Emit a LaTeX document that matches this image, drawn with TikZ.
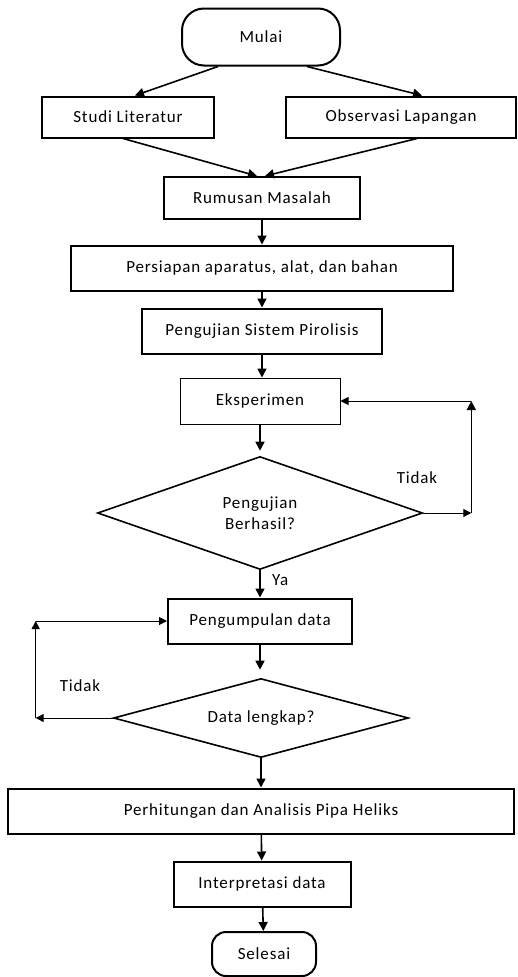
\documentclass[tikz,border=0pt]{standalone}
\usepackage{fontspec}
\setmainfont[LetterSpace=5]{Carlito}
\usetikzlibrary{shapes.geometric,arrows.meta,calc}

\begin{document}
\begin{tikzpicture}[x=1pt,y=-1pt,font=\fontsize{17}{21}\selectfont,
	kotak/.style={draw,line width=2pt,minimum height=45pt,inner sep=2pt},
	terminal/.style={draw,line width=2pt,rounded corners=22pt},
	pilihan/.style={draw,diamond,line width=1.6pt,inner sep=0pt,align=center},
	panah/.style={line width=1.6pt,-{Triangle[length=9pt,width=9pt]}},
	panahtipis/.style={line width=1pt,-{Triangle[length=8pt,width=8pt]}}]
	\useasboundingbox (0,0) rectangle (518,977);
	\node[terminal,minimum width=158pt,minimum height=57pt] (mulai) at (261,37) {Mulai};
	\node[kotak,minimum width=172pt,minimum height=41pt] (studi) at (128,117) {Studi Literatur};
	\node[kotak,minimum width=230pt,minimum height=41pt] (observasi) at (401,117) {Observasi Lapangan};
	\node[kotak,minimum width=196pt,minimum height=42pt] (rumusan) at (262,198) {Rumusan Masalah};
	\node[kotak,minimum width=382pt] (persiapan) at (262,268) {Persiapan aparatus, alat, dan bahan};
	\node[kotak,minimum width=240pt] (sistem) at (262,331) {Pengujian Sistem Pirolisis};
	\node[kotak,line width=1pt,minimum width=160pt,minimum height=46pt] (eksperimen) at (260,401) {Eksperimen};
	\node[pilihan,aspect=2.9,minimum width=325pt,minimum height=113pt] (berhasil) at (260,513) {Pengujian\\Berhasil?};
	\node[kotak,minimum width=184pt] (pengumpulan) at (260,621) {Pengumpulan data};
	\node[pilihan,aspect=3.7,minimum width=295pt,minimum height=79pt] (lengkap) at (261,718) {Data lengkap?};
	\node[kotak,minimum width=506pt] (perhitungan) at (261,811) {Perhitungan dan Analisis Pipa Heliks};
	\node[kotak,minimum width=177pt] (interpretasi) at (262,884) {Interpretasi data};
	\node[terminal,rounded corners=14pt,minimum width=104pt,minimum height=44pt] (selesai) at (264,954) {Selesai};
	% alur utama
	\draw[panah] ($(mulai.south)+(-43,0)$) -- ($(studi.north)+(7,0)$);
	\draw[panah] ($(mulai.south)+(46,0)$) -- ($(observasi.north)+(21,0)$);
	\draw[panah] ($(studi.south)+(-5,0)$) -- ($(rumusan.north)+(-5,0)$);
	\draw[panah] ($(observasi.south)+(16,0)$) -- ($(rumusan.north)+(3,0)$);
	\draw[panah] (rumusan) -- (persiapan);
	\draw[panah] (persiapan) -- (sistem);
	\draw[panah] (sistem.south) -- (sistem.south |- eksperimen.north);
	\draw[panah,shorten >=5pt] (eksperimen.south) -- (berhasil.north);
	\draw[panah] (berhasil.south) -- node[right=8pt,pos=.35] (ya) {Ya} (berhasil.south |- pengumpulan.north);
	\draw[panah,shorten >=8pt] (pengumpulan.south) -- (pengumpulan.south |- lengkap.north);
	\draw[panah] (lengkap.south) -- (lengkap.south |- perhitungan.north);
	\draw[panah] (perhitungan) -- (interpretasi);
	\draw[panah] (interpretasi) -- (selesai);
	% ulang eksperimen
	\coordinate (kanan1) at ($(berhasil.east)+(48,0)$);
	\coordinate (kanan2) at (kanan1 |- eksperimen.east);
	\draw[panahtipis] (berhasil.east) -- (kanan1);
	\draw[panah] (kanan1) -- (kanan2);
	\draw[panahtipis] (kanan2) -- (eksperimen.east);
	\node (tidak1) at (417,478) {Tidak};
	% ulang pengumpulan data
	\coordinate (kiri1) at ($(lengkap.west)+(-77,0)$);
	\coordinate (kiri2) at (kiri1 |- pengumpulan.west);
	\draw[panahtipis] (lengkap.west) -- (kiri1);
	\draw[panahtipis] (kiri1) -- (kiri2);
	\draw[panahtipis] (kiri2) -- (pengumpulan.west);
	\node (tidak2) at (80,686) {Tidak};
\end{tikzpicture}
\end{document}
